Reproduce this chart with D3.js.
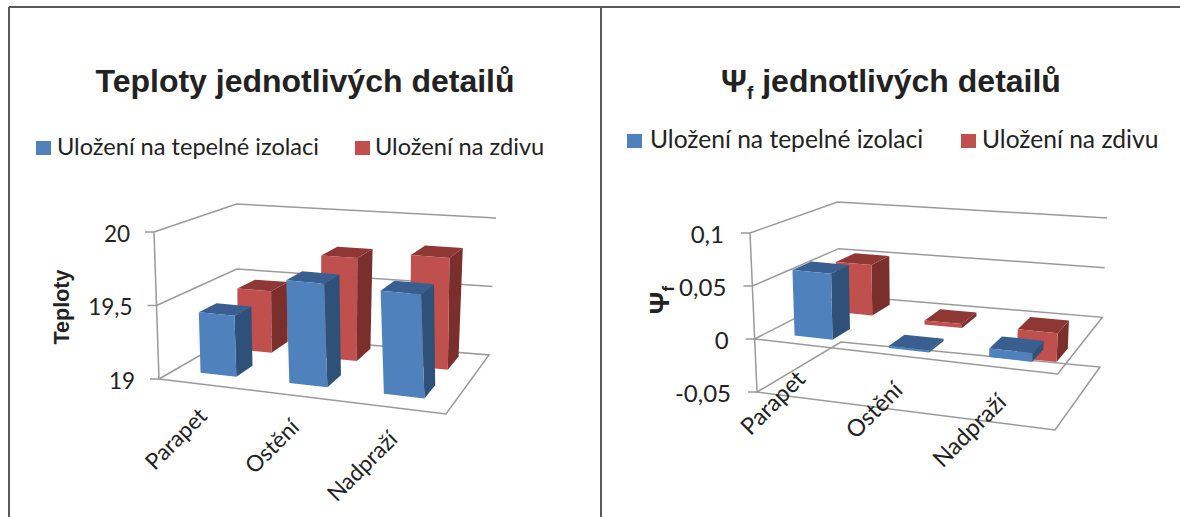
<!DOCTYPE html>
<html><head><meta charset="utf-8">
<script src="https://cdn.jsdelivr.net/npm/d3@7"></script>
<style>html,body{margin:0;padding:0;background:#fff}svg{display:block}</style>
</head><body><svg id="c" width="1180" height="517"></svg>
<script>
const categories = ["Parapet", "Ostění", "Nadpraží"];
const seriesNames = ["Uložení na tepelné izolaci", "Uložení na zdivu"];
const teplotyIzolace = [19.42, 19.7, 19.69];
const teplotyZdivo = [19.45, 19.74, 19.79];
const psiIzolace = [0.0625, -0.002, 0.008];
const psiZdivo = [0.051, -0.004, -0.028];
const teplotyTicks = [19, 19.5, 20];
const psiTicks = [-0.05, 0, 0.05, 0.1];

const blue = {front:"#4f81bd", side:"#2f5179", top:"#385f8f"};
const red = {front:"#c0504d", side:"#7b2f2d", top:"#8f3735"};
const ink = "#222";
const gridCol = "#9a9a9a";
const comma = d3.formatLocale({decimal:",",thousands:" ",grouping:[3],currency:["",""],minus:"-"});
const fmtTick = v => comma.format("~g")(v);
const svg = d3.select("#c");
const lineGen = d3.line();

function chart(cfg){
  const g = svg.append("g");
  const lerp = (a,b,t)=>[a[0]+(b[0]-a[0])*t, a[1]+(b[1]-a[1])*t];
  const yT = d3.scaleLinear().domain(cfg.domain).range([0,1]);
  const warp = u => u/(1+cfg.warp*(1-u));
  const uS = d3.scaleBand().domain(categories).range([0,1]).paddingInner(.59).paddingOuter(.3);
  const dS = d3.scaleBand().domain(seriesNames).range(cfg.depthRange).paddingInner(cfg.depthInner).paddingOuter(cfg.depthOuter);
  function P(u,d,v){
    const w = warp(u), t = yT(v);
    const lo = lerp(lerp(cfg.bot.fl,cfg.bot.fr,w), lerp(cfg.bot.bl,cfg.bot.br,w), d);
    const hi = lerp(lerp(cfg.top.fl,cfg.top.fr,w), lerp(cfg.top.bl,cfg.top.br,w), d);
    return lerp(lo,hi,t);
  }
  const poly = (pts,attrs)=>{
    const p = g.append("path").attr("d",lineGen(pts)+"Z");
    Object.entries(attrs).forEach(([k,v])=>p.attr(k,v));
    return p;
  };
  const gridAttr = {fill:"none",stroke:gridCol,"stroke-width":1.5};
  // grid
  cfg.ticks.forEach(v=>{
    const isPlane = v===cfg.domain[0] || v===cfg.base;
    const pts = isPlane
      ? [P(0,0,v),P(0,1,v),P(1,1,v),P(1,0,v)]
      : [P(0,0,v),P(0,1,v),P(1,1,v)];
    const path = g.append("path").attr("d",lineGen(pts)+(isPlane?"Z":""));
    Object.entries(gridAttr).forEach(([k,a])=>path.attr(k,a));
    const a = P(0,0,v);
    g.append("line").attr("x1",a[0]-9).attr("x2",a[0]).attr("y1",a[1]).attr("y2",a[1])
      .attr("stroke",gridCol).attr("stroke-width",1.5);
    g.append("text").attr("x",a[0]-cfg.tickGap).attr("y",a[1]+2).attr("dy",".35em")
      .attr("text-anchor","end").attr("font-family","Lato").attr("font-size",cfg.tickSize)
      .attr("fill",ink).text(fmtTick(v));
  });
  const a0=P(0,0,cfg.domain[0]), a1=P(0,0,cfg.domain[1]);
  g.append("line").attr("x1",a0[0]).attr("y1",a0[1]).attr("x2",a1[0]).attr("y2",a1[1])
    .attr("stroke",gridCol).attr("stroke-width",1.5);
  // bars, back row first
  [[seriesNames[1],cfg.vals[1],red],[seriesNames[0],cfg.vals[0],blue]].forEach(([name,vals,col])=>{
    categories.forEach((cat,i)=>{
      const v = vals[i];
      const u0=uS(cat), u1=u0+uS.bandwidth();
      const d0=dS(name), d1=d0+dS.bandwidth();
      const hi=Math.max(v,cfg.base), lo=Math.min(v,cfg.base);
      poly([P(u1,d0,lo),P(u1,d1,lo),P(u1,d1,hi),P(u1,d0,hi)],{fill:col.side});
      poly([P(u0,d0,hi),P(u1,d0,hi),P(u1,d1,hi),P(u0,d1,hi)],{fill:col.top});
      poly([P(u0,d0,lo),P(u1,d0,lo),P(u1,d0,hi),P(u0,d0,hi)],{fill:col.front});
    });
  });
  // category labels
  categories.forEach(cat=>{
    const u=uS(cat)+uS.bandwidth()/2;
    const p=P(u,0,cfg.base);
    g.append("text").attr("transform",`translate(${p[0]+cfg.labelDx},${p[1]+cfg.labelDy}) rotate(-45)`)
      .attr("text-anchor","end").attr("font-family","Lato").attr("font-size",cfg.catSize)
      .attr("fill",ink).text(cat);
  });
  // title
  const t=g.append("text").attr("x",cfg.titleX).attr("y",cfg.titleY).attr("text-anchor","middle")
    .attr("font-family","Liberation Sans").attr("font-weight","bold").attr("font-size",32).attr("fill",ink);
  cfg.title.forEach(s=>{
    const ts=t.append("tspan").text(s.t);
    if(s.sub) ts.attr("font-size",19).attr("dy",7);
    else if(s.after) ts.attr("dy",-7);
  });
  // legend
  seriesNames.forEach((n,i)=>{
    const l=cfg.legend[i];
    g.append("rect").attr("x",l.sx).attr("y",cfg.legendY-13).attr("width",15).attr("height",14).attr("fill",i?red.front:blue.front);
    g.append("text").attr("x",l.tx).attr("y",cfg.legendY+1).attr("font-family","Lato")
      .attr("font-size",cfg.legendSize).attr("fill",ink).text(n);
  });
  // axis title
  const at=g.append("text").attr("transform",`translate(${cfg.axisX},${cfg.axisY}) rotate(-90)`)
    .attr("text-anchor","middle").attr("font-family","Liberation Sans").attr("font-weight","bold")
    .attr("font-size",cfg.axisSize).attr("fill",ink);
  cfg.axisTitle.forEach(s=>{
    const ts=at.append("tspan").text(s.t);
    if(s.sub) ts.attr("font-size",cfg.axisSize*.6).attr("dy",5);
  });
}

// frame
[[9,7,1180,7],[9,7,9,517],[601,7,601,517]].forEach(d=>{
  svg.append("line").attr("x1",d[0]).attr("y1",d[1]).attr("x2",d[2]).attr("y2",d[3])
    .attr("stroke","#5a5a5a").attr("stroke-width",2);
});

chart({
  domain:[19,20], base:19, ticks:teplotyTicks, vals:[teplotyIzolace,teplotyZdivo], warp:.1,
  depthInner:.54, depthOuter:.27, depthRange:[.07,1.07],
  bot:{fl:[159,379],fr:[446,414],bl:[237,334],br:[489,355]},
  top:{fl:[154,232],fr:[438,259],bl:[236.5,204],br:[496,218]},
  tickSize:22.5, tickGap:24, catSize:22.5, labelDx:5, labelDy:33,
  title:[{t:"Teploty jednotlivých detailů"}], titleX:305, titleY:92,
  legend:[{sx:36,tx:57},{sx:355,tx:375}], legendY:154, legendSize:23.6,
  axisTitle:[{t:"Teploty"}], axisX:69, axisY:307, axisSize:21.5
});
chart({
  domain:[-0.05,0.1], base:0, ticks:psiTicks, vals:[psiIzolace,psiZdivo], warp:.1,
  depthInner:.56, depthOuter:.24, depthRange:[.025,1.025],
  bot:{fl:[757,392],fr:[1055,430],bl:[841,342],br:[1100,367]},
  top:{fl:[750,233],fr:[1063,262],bl:[837.5,202],br:[1107,218]},
  tickSize:24, tickGap:26, catSize:23.5, labelDx:5, labelDy:36,
  title:[{t:"Ψ"},{t:"f",sub:true},{t:" jednotlivých detailů",after:true}], titleX:891, titleY:92,
  legend:[{sx:627,tx:650},{sx:961,tx:982}], legendY:147, legendSize:24.6,
  axisTitle:[{t:"Ψ"},{t:"f",sub:true}], axisX:669, axisY:300, axisSize:28
});
</script></body></html>
